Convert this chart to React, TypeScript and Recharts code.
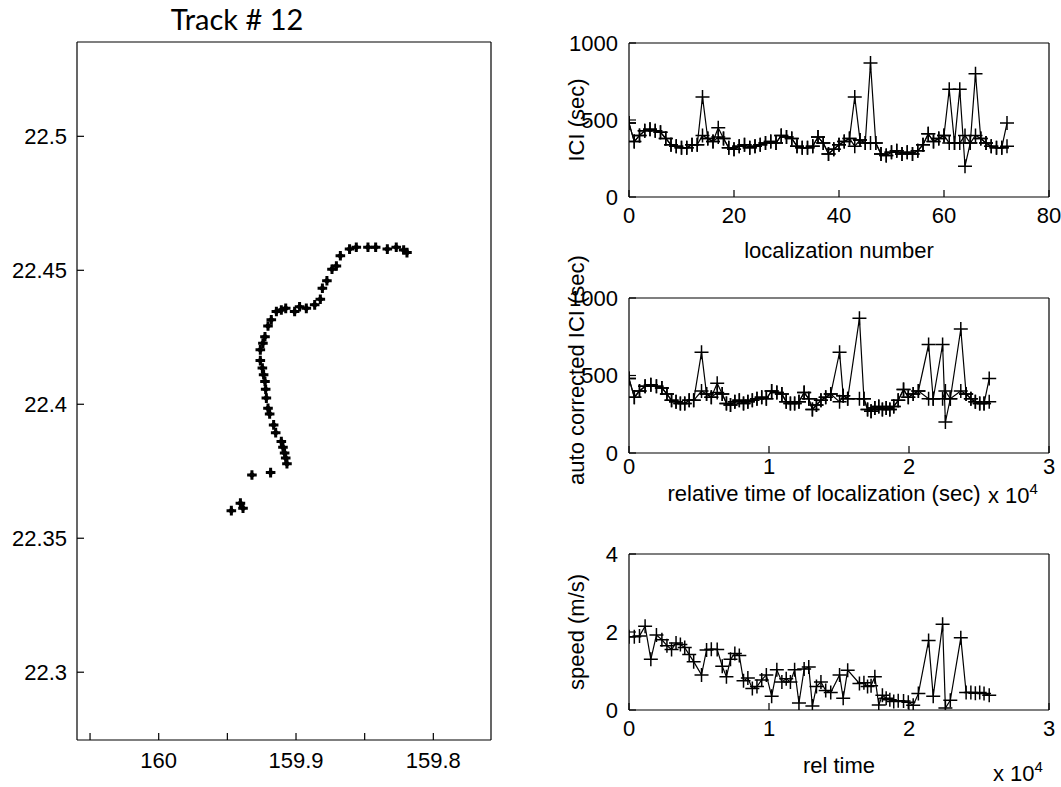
import React from 'react';
import { ScatterChart, Scatter, XAxis, YAxis } from 'recharts';

// ---------- data ----------
const trackLon = [159.9471, 159.9405, 159.9386, 159.9321, 159.9185, 159.9066, 159.9075, 159.9083, 159.9095, 159.9107, 159.9148, 159.9163, 159.9192, 159.9204, 159.9216, 159.9221, 159.9226, 159.9236, 159.9245, 159.926, 159.926, 159.9241, 159.9226, 159.9204, 159.918, 159.9143, 159.9107, 159.9075, 159.901, 159.8974, 159.8925, 159.8864, 159.8823, 159.8808, 159.8775, 159.8738, 159.8706, 159.8677, 159.861, 159.8561, 159.8476, 159.842, 159.8335, 159.827, 159.8216, 159.8192];
const trackLat = [22.3603, 22.3631, 22.3612, 22.3736, 22.3745, 22.3778, 22.3799, 22.3818, 22.384, 22.3861, 22.3894, 22.3923, 22.3964, 22.3985, 22.4023, 22.4056, 22.4085, 22.411, 22.4135, 22.4163, 22.4203, 22.4228, 22.4252, 22.4292, 22.4315, 22.4346, 22.4352, 22.4358, 22.4346, 22.4364, 22.4358, 22.4371, 22.4392, 22.4433, 22.4461, 22.4504, 22.4516, 22.4554, 22.4579, 22.4586, 22.4586, 22.4586, 22.4579, 22.4586, 22.4576, 22.4566];

const locNumber = [0, 1, 2, 3, 4, 5, 6, 7, 8, 9, 10, 11, 12, 13, 14, 15, 16, 17, 18, 19, 20, 21, 22, 23, 24, 25, 26, 27, 28, 29, 30, 31, 32, 33, 34, 35, 36, 37, 38, 39, 40, 41, 42, 43, 44, 45, 46, 47, 48, 49, 50, 51, 52, 53, 54, 55, 56, 57, 58, 59, 60, 61, 62, 63, 64, 65, 66, 67, 68, 69, 70, 71, 72];
const iciRaw = [480, 360, 400, 430, 440, 430, 420, 380, 340, 330, 320, 320, 340, 340, 650, 380, 360, 450, 380, 320, 310, 330, 340, 320, 330, 340, 350, 360, 350, 400, 390, 380, 330, 320, 320, 330, 390, 350, 280, 310, 340, 360, 380, 650, 370, 350, 870, 350, 280, 270, 290, 300, 280, 290, 280, 300, 340, 410, 360, 380, 400, 700, 350, 700, 200, 350, 800, 380, 350, 330, 320, 320, 480];
const iciCorrected = [480, 360, 400, 430, 440, 430, 420, 380, 340, 330, 320, 320, 340, 340, 400, 380, 360, 390, 380, 320, 310, 330, 340, 320, 330, 340, 350, 360, 350, 400, 390, 380, 330, 320, 320, 330, 390, 350, 280, 310, 340, 360, 380, 330, 370, 350, 350, 350, 280, 270, 290, 300, 280, 290, 280, 300, 340, 410, 360, 380, 400, 350, 350, 350, 400, 350, 400, 380, 350, 330, 320, 320, 330];
const relTime = [0, 380, 750, 1150, 1560, 1960, 2350, 2710, 3040, 3360, 3670, 3980, 4300, 4620, 5180, 5540, 5880, 6300, 6660, 6960, 7250, 7560, 7880, 8180, 8490, 8810, 9140, 9480, 9810, 10190, 10560, 10920, 11230, 11530, 11830, 12140, 12510, 12840, 13100, 13390, 13710, 14050, 14410, 15040, 15300, 15620, 16460, 16780, 17040, 17290, 17560, 17840, 18100, 18370, 18630, 18910, 19230, 19610, 19950, 20300, 20670, 21400, 21730, 22400, 22600, 22950, 23700, 24080, 24420, 24740, 25050, 25360, 25730];
const speed = [1.88, 1.88, 1.9, 2.15, 1.3, 1.92, 1.8, 1.65, 1.55, 1.72, 1.68, 1.6, 1.42, 1.24, 0.9, 1.54, 1.56, 1.55, 1.12, 0.85, 1.3, 1.45, 1.4, 0.75, 0.82, 0.55, 0.6, 0.77, 0.9, 0.35, 1.03, 0.72, 0.8, 0.72, 1.03, 0.18, 1.05, 1.1, 0.1, 0.6, 0.72, 0.5, 0.45, 0.9, 0.3, 1.02, 0.68, 0.7, 0.6, 0.62, 0.85, 0.13, 0.38, 0.3, 0.26, 0.22, 0.24, 0.23, 0.2, 0.12, 0.42, 1.78, 0.35, 2.2, 0.05, 0.25, 1.85, 0.45, 0.45, 0.43, 0.45, 0.42, 0.38];

const lonTicks = [160.05, 160, 159.95, 159.9, 159.85, 159.8];
const lonTickLabels = ['', '160', '', '159.9', '', '159.8'];
const latTicks = [22.3, 22.35, 22.4, 22.45, 22.5];
const latTickLabels = ['22.3', '22.35', '22.4', '22.45', '22.5'];
const locTicks = [0, 20, 40, 60, 80];
const locTickLabels = ['0', '20', '40', '60', '80'];
const iciTicks = [0, 500, 1000];
const iciTickLabels = ['0', '500', '1000'];
const timeTicks = [0, 10000, 20000, 30000];
const timeTickLabels = ['0', '1', '2', '3'];
const speedTicks = [0, 2, 4];
const speedTickLabels = ['0', '2', '4'];

// ---------- drawing helpers ----------
const FONT = '"Liberation Sans", Arial, Helvetica, sans-serif';
const TICK_FS = 22;

type Pt = { x: number; y: number };

function PlusMark(props: any) {
  const { cx, cy } = props;
  if (cx == null || cy == null) return <g />;
  const s = 7;
  return <path d={`M${cx - s},${cy}H${cx + s}M${cx},${cy - s}V${cy + s}`} stroke="#000" strokeWidth={1.5} fill="none" />;
}

function BlobMark(props: any) {
  const { cx, cy } = props;
  if (cx == null || cy == null) return <g />;
  const s = 4.8;
  const d = 3.6;
  return (
    <g>
      <path d={`M${cx - s},${cy}H${cx + s}M${cx},${cy - s}V${cy + s}`} stroke="#000" strokeWidth={3} />
      <path d={`M${cx},${cy - d}L${cx + d},${cy}L${cx},${cy + d}L${cx - d},${cy}Z`} fill="#000" />
    </g>
  );
}

function NoMark() {
  return <g />;
}

type Series = { data: Pt[]; shape: any; line: boolean };

type PanelProps = {
  cl: number; ct: number; cw: number; ch: number;
  x0: number; x1: number; y0: number; y1: number;
  xDomain: [number, number]; yDomain: [number, number];
  xTicks: number[]; yTicks: number[];
  xLabels: string[]; yLabels: string[];
  reversed?: boolean;
  series: Series[];
  xGap: number; yGap: number;
};

const SIDE = 4;
const TICK_LEN = 7;

function Panel(p: PanelProps) {
  const yw = p.x0 - p.cl;
  const xh = p.ct + p.ch - p.y1;
  const margin = { top: p.y0 - p.ct - SIDE, right: p.cl + p.cw - p.x1 - SIDE, bottom: 0, left: 0 };
  const xf = (v: number) => {
    const i = p.xTicks.indexOf(v);
    return i >= 0 ? p.xLabels[i] : '';
  };
  const yf = (v: number) => {
    const i = p.yTicks.indexOf(v);
    return i >= 0 ? p.yLabels[i] : '';
  };
  const line = { stroke: '#000', strokeWidth: 1.2 };
  const tickStyle = { fill: '#000', fontSize: TICK_FS, fontFamily: FONT };
  return (
    <div style={{ position: 'absolute', left: p.cl, top: p.ct, width: p.cw, height: p.ch }}>
      <ScatterChart width={p.cw} height={p.ch} margin={margin}>
        <XAxis xAxisId="b" type="number" dataKey="x" domain={p.xDomain} ticks={p.xTicks} allowDataOverflow
          reversed={p.reversed} orientation="bottom" height={xh} interval={0}
          tickSize={-TICK_LEN} tickMargin={TICK_LEN + p.xGap} tickFormatter={xf}
          tick={tickStyle} axisLine={line} tickLine={line} />
        <XAxis xAxisId="t" type="number" dataKey="x" domain={p.xDomain} ticks={p.xTicks} allowDataOverflow
          reversed={p.reversed} orientation="top" height={SIDE} interval={0}
          tickSize={-TICK_LEN} tick={false} axisLine={line} tickLine={line} />
        <YAxis yAxisId="l" type="number" dataKey="y" domain={p.yDomain} ticks={p.yTicks} allowDataOverflow
          orientation="left" width={yw} interval={0}
          tickSize={-TICK_LEN} tickMargin={TICK_LEN + p.yGap} tickFormatter={yf}
          tick={tickStyle} axisLine={line} tickLine={line} />
        <YAxis yAxisId="r" type="number" dataKey="y" domain={p.yDomain} ticks={p.yTicks} allowDataOverflow
          orientation="right" width={SIDE} interval={0}
          tickSize={-TICK_LEN} tick={false} axisLine={line} tickLine={line} />
        {p.series.map((s, i) => (
          <Scatter key={i} xAxisId="b" yAxisId="l" data={s.data} shape={s.shape}
            line={s.line ? { stroke: '#000', strokeWidth: 1.2 } : false}
            lineType="joint" lineJointType="linear" isAnimationActive={false} />
        ))}
        <Scatter xAxisId="t" yAxisId="r" data={p.series[0].data} shape={NoMark} isAnimationActive={false} />
      </ScatterChart>
    </div>
  );
}

// ---------- app ----------
export default function App() {
  const track: Pt[] = trackLon.map((x, i) => ({ x, y: trackLat[i] }));
  const iciByNum: Pt[] = locNumber.map((x, i) => ({ x, y: iciRaw[i] }));
  const iciCorrByNum: Pt[] = locNumber.map((x, i) => ({ x, y: iciCorrected[i] }));
  const iciByTime: Pt[] = relTime.map((x, i) => ({ x, y: iciRaw[i] }));
  const iciCorrByTime: Pt[] = relTime.map((x, i) => ({ x, y: iciCorrected[i] }));
  const speedByTime: Pt[] = relTime.map((x, i) => ({ x, y: speed[i] }));

  const lbl = { fontFamily: FONT, fontSize: TICK_FS, fill: '#000' } as const;

  return (
    <div style={{ position: 'absolute', left: 0, top: 0, width: 1061, height: 787, background: '#fff', overflow: 'hidden' }}>
      <Panel cl={0} ct={0} cw={530} ch={787} x0={77} x1={491} y0={42} y1={740}
        xDomain={[159.758, 160.0595]} yDomain={[22.2747, 22.5352]}
        xTicks={lonTicks} yTicks={latTicks} xLabels={lonTickLabels} yLabels={latTickLabels}
        reversed xGap={12} yGap={10}
        series={[{ data: track, shape: BlobMark, line: false }]} />
      <Panel cl={530} ct={0} cw={531} ch={240} x0={629} x1={1049} y0={43} y1={197}
        xDomain={[0, 80]} yDomain={[0, 1000]}
        xTicks={locTicks} yTicks={iciTicks} xLabels={locTickLabels} yLabels={iciTickLabels}
        xGap={10} yGap={11}
        series={[{ data: iciByNum, shape: PlusMark, line: true }, { data: iciCorrByNum, shape: PlusMark, line: true }]} />
      <Panel cl={530} ct={250} cw={531} ch={240} x0={629} x1={1049} y0={298} y1={453}
        xDomain={[0, 30000]} yDomain={[0, 1000]}
        xTicks={timeTicks} yTicks={iciTicks} xLabels={timeTickLabels} yLabels={iciTickLabels}
        xGap={5} yGap={11}
        series={[{ data: iciByTime, shape: PlusMark, line: true }, { data: iciCorrByTime, shape: PlusMark, line: true }]} />
      <Panel cl={530} ct={510} cw={531} ch={277} x0={629} x1={1049} y0={554} y1={710}
        xDomain={[0, 30000]} yDomain={[0, 4]}
        xTicks={timeTicks} yTicks={speedTicks} xLabels={timeTickLabels} yLabels={speedTickLabels}
        xGap={10} yGap={11}
        series={[{ data: speedByTime, shape: PlusMark, line: true }]} />

      <svg width={1061} height={787} style={{ position: 'absolute', left: 0, top: 0, pointerEvents: 'none' }}>
        <text x={237} y={30} textAnchor="middle" style={{ fontFamily: 'Lato, "Open Sans", sans-serif', fontSize: 29, fill: '#000' }}>Track # 12</text>

        <text x={839} y={258} textAnchor="middle" style={lbl}>localization number</text>
        <text x={824} y={501} textAnchor="middle" style={lbl}>relative time of localization (sec)</text>
        <text x={839} y={773} textAnchor="middle" style={lbl}>rel time</text>

        <text x={584} y={120} textAnchor="middle" transform="rotate(-90 584 120)" style={lbl}>ICI (sec)</text>
        <text x={584} y={370} textAnchor="middle" transform="rotate(-90 584 370)" style={lbl}>auto corrected ICI (sec)</text>
        <text x={584} y={632} textAnchor="middle" transform="rotate(-90 584 632)" style={lbl}>speed (m/s)</text>

        <text x={988} y={503} style={lbl}>x 10<tspan dy={-9} style={{ fontSize: 15 }}>4</tspan></text>
        <text x={993} y={781} style={lbl}>x 10<tspan dy={-9} style={{ fontSize: 15 }}>4</tspan></text>
      </svg>
    </div>
  );
}
